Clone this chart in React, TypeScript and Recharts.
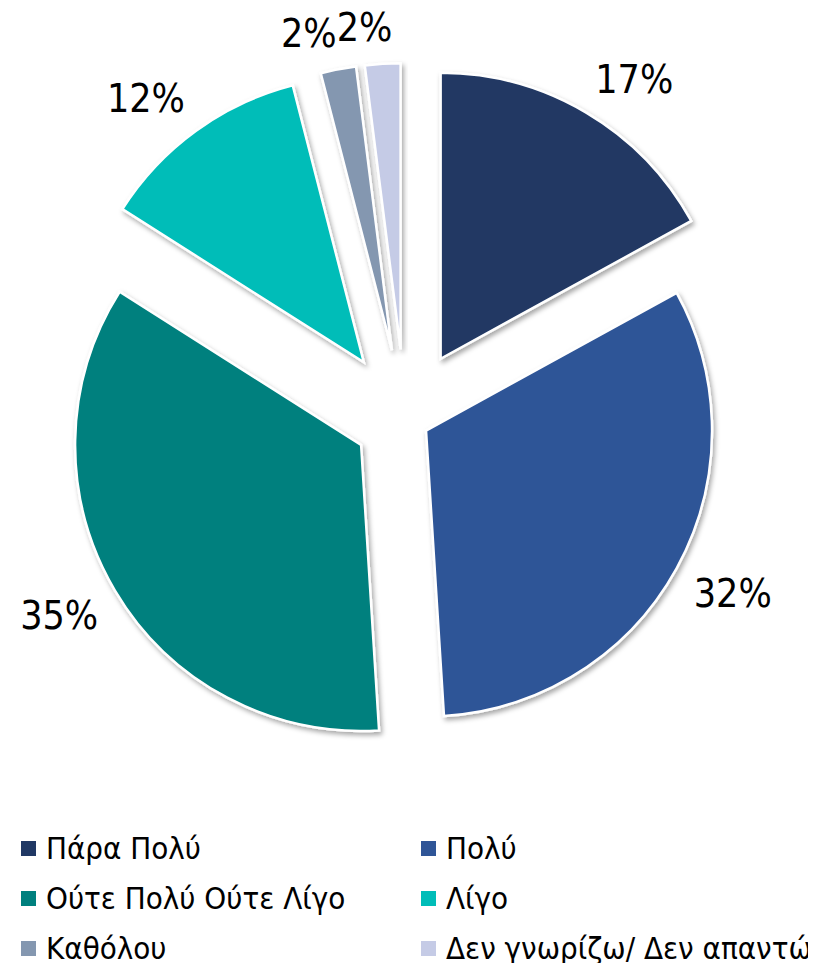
import { Legend, Pie, PieChart, Sector } from 'recharts'

const categories = [
  'Πάρα Πολύ',
  'Πολύ',
  'Ούτε Πολύ Ούτε Λίγο',
  'Λίγο',
  'Καθόλου',
  'Δεν γνωρίζω/ Δεν απαντώ',
]
const values = [17, 32, 35, 12, 2, 2]
const colors = ['#203864', '#2F5597', '#00807E', '#00BDB8', '#8497B0', '#C5CBE6']
// how far each slice is pulled out of the centre (px)
const explode = [70, 24, 51, 70, 70, 70]

const data = categories.map((name, i) => ({ name, value: values[i], fill: colors[i] }))

const RADIAN = Math.PI / 180
const FONT = "'DejaVu Sans Condensed', 'DejaVu Sans', Verdana, sans-serif"
const LABEL_SIZE = 39
const LABEL_GAP = 22

const shift = (midAngle: number, d: number) => ({
  dx: d * Math.cos(-midAngle * RADIAN),
  dy: d * Math.sin(-midAngle * RADIAN),
})

function ExplodedSector(props: any) {
  const { dx, dy } = shift(props.midAngle, explode[props.index] ?? 0)
  return (
    <g filter="url(#sliceShadow)">
      <Sector
        cx={props.cx + dx}
        cy={props.cy + dy}
        innerRadius={0}
        outerRadius={props.outerRadius}
        startAngle={props.startAngle}
        endAngle={props.endAngle}
        fill={props.fill}
        stroke="#fff"
        strokeWidth={2.5}
      />
    </g>
  )
}

// boxes of labels already drawn, so small neighbours don't overlap
let placed: { x1: number; x2: number; y1: number; y2: number }[] = []

function renderLabel(props: any) {
  const { cx, cy, midAngle, outerRadius, value, index } = props
  if (index === 0) placed = []
  const text = `${value}%`
  // rough glyph box of the text
  const w = LABEL_SIZE * (0.59 * String(value).length + 0.71)
  const h = LABEL_SIZE * 0.73
  const ux = Math.cos(-midAngle * RADIAN)
  const uy = Math.sin(-midAngle * RADIAN)
  // nearest corner of the label box sits just outside the slice's arc
  const d = (explode[index] ?? 0) + outerRadius + LABEL_GAP
  let x = cx + ux * d + Math.sign(ux) * (w / 2)
  const y = cy + uy * d + Math.sign(uy) * (h / 2)
  for (const b of placed) {
    const overlap = x - w / 2 < b.x2 && x + w / 2 > b.x1 && y - h / 2 < b.y2 && y + h / 2 > b.y1
    if (overlap) x = b.x2 + 5 + w / 2
  }
  placed.push({ x1: x - w / 2, x2: x + w / 2, y1: y - h / 2, y2: y + h / 2 })
  return (
    <text
      x={x}
      y={y}
      textAnchor="middle"
      dominantBaseline="central"
      fontSize={LABEL_SIZE}
      fontFamily={FONT}
      fill="#000"
    >
      {text}
    </text>
  )
}

function LegendGrid({ payload }: any) {
  const items = [...(payload || [])].sort(
    (a: any, b: any) => categories.indexOf(a.value) - categories.indexOf(b.value),
  )
  return (
    <div
      style={{
        display: 'grid',
        gridTemplateColumns: '400px 400px',
        fontFamily: FONT,
        fontSize: 31,
        color: '#000',
      }}
    >
      {items.map((entry: any) => (
        <div
          key={entry.value}
          style={{
            display: 'flex',
            alignItems: 'center',
            height: 50,
            paddingLeft: 13,
            whiteSpace: 'nowrap',
          }}
        >
          <span
            style={{
              display: 'inline-block',
              width: 15,
              height: 15,
              background: entry.color,
              marginRight: 10,
              flexShrink: 0,
            }}
          />
          <span>{entry.value}</span>
        </div>
      ))}
    </div>
  )
}

export default function App() {
  return (
    <PieChart width={800} height={955} margin={{ top: 0, right: 0, bottom: 0, left: 0 }}>
      <defs>
        <filter id="sliceShadow" x="-20%" y="-20%" width="140%" height="140%">
          <feDropShadow dx="2" dy="3" stdDeviation="2.5" floodColor="#000" floodOpacity="0.35" />
        </filter>
      </defs>
      <Pie
        data={data}
        dataKey="value"
        nameKey="name"
        cx={397}
        cy={411}
        outerRadius={286}
        startAngle={90}
        endAngle={-270}
        stroke="#fff"
        shape={ExplodedSector}
        inactiveShape={ExplodedSector}
        activeShape={ExplodedSector}
        label={renderLabel}
        labelLine={false}
        isAnimationActive={false}
      />
      <Legend
        content={<LegendGrid />}
        wrapperStyle={{ position: 'absolute', left: 0, top: 815, width: 800 }}
      />
    </PieChart>
  )
}
